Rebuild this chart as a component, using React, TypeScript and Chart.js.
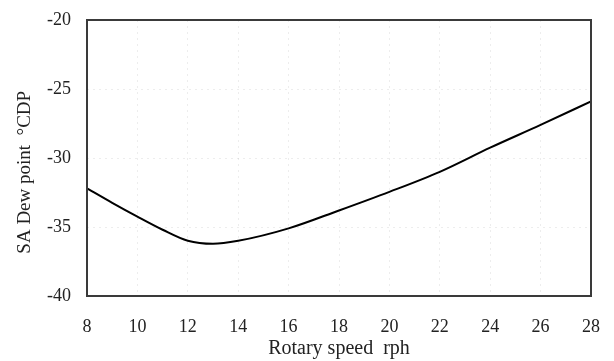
import React, { useEffect, useRef } from "react";
import { Chart, registerables } from "chart.js";

Chart.register(...registerables);

const speeds = [8, 9, 10, 11, 12, 13, 14, 16, 18, 20, 22, 24, 26, 28];
const dewPoints = [-32.2, -33.25, -34.25, -35.2, -36.0, -36.22, -36.0, -35.1, -33.8, -32.45, -31.0, -29.25, -27.6, -25.9];
const xTicks = [8, 10, 12, 14, 16, 18, 20, 22, 24, 26, 28];
const yTicks = [-40, -35, -30, -25, -20];

const framePlugin = {
  id: "frame",
  afterDraw(chart: any) {
    const { ctx, chartArea } = chart;
    ctx.save();
    ctx.strokeStyle = "#3a3a3a";
    ctx.lineWidth = 2;
    ctx.strokeRect(chartArea.left, chartArea.top, chartArea.right - chartArea.left, chartArea.bottom - chartArea.top);
    ctx.restore();
  },
};

export default function App() {
  const ref = useRef<HTMLCanvasElement>(null);
  useEffect(() => {
    document.body.style.margin = "0";
    const font = "'Liberation Serif', 'Times New Roman', serif";
    const chart = new Chart(ref.current!, {
      type: "line",
      data: {
        datasets: [
          {
            data: speeds.map((s, i) => ({ x: s, y: dewPoints[i] })),
            borderColor: "#000",
            borderWidth: 2,
            pointRadius: 0,
            cubicInterpolationMode: "monotone",
            fill: false,
          },
        ],
      },
      options: {
        animation: false,
        responsive: false,
        layout: { padding: { left: 0, top: 20, right: 23, bottom: 0 } },
        plugins: { legend: { display: false }, tooltip: { enabled: false } },
        scales: {
          x: {
            type: "linear",
            min: 8,
            max: 28,
            afterBuildTicks: (s: any) => { s.ticks = xTicks.map((v) => ({ value: v })); },
            afterFit: (s: any) => { s.height = 65; s.paddingLeft = 0; s.paddingRight = 0; },
            grid: { color: "rgba(0,0,0,0.07)", drawTicks: false },
            border: { display: false, dash: [2, 4] },
            ticks: { color: "#222", font: { family: font, size: 18 }, padding: 20, maxRotation: 0 },
            title: { display: true, text: "Rotary speed  rph", color: "#222", font: { family: font, size: 20 }, padding: { top: 0, bottom: 0 } },
          },
          y: {
            min: -40,
            max: -20,
            afterBuildTicks: (s: any) => { s.ticks = yTicks.map((v) => ({ value: v })); },
            afterFit: (s: any) => { s.width = 87; s.paddingTop = 0; s.paddingBottom = 0; },
            grid: { color: "rgba(0,0,0,0.07)", drawTicks: false },
            border: { display: false, dash: [2, 4] },
            ticks: { color: "#222", font: { family: font, size: 18 }, padding: 16 },
            title: { display: true, text: "SA Dew point  \u00b0CDP      ", color: "#222", font: { family: font, size: 19 }, padding: { top: 14, bottom: 0 } },
          },
        },
      },
      plugins: [framePlugin],
    } as any);
    return () => chart.destroy();
  }, []);
  return (
    <div style={{ position: "absolute", left: 0, top: 0, width: 614, height: 361, background: "#fff" }}>
      <canvas ref={ref} width={614} height={361} style={{ width: 614, height: 361 }} />
    </div>
  );
}
